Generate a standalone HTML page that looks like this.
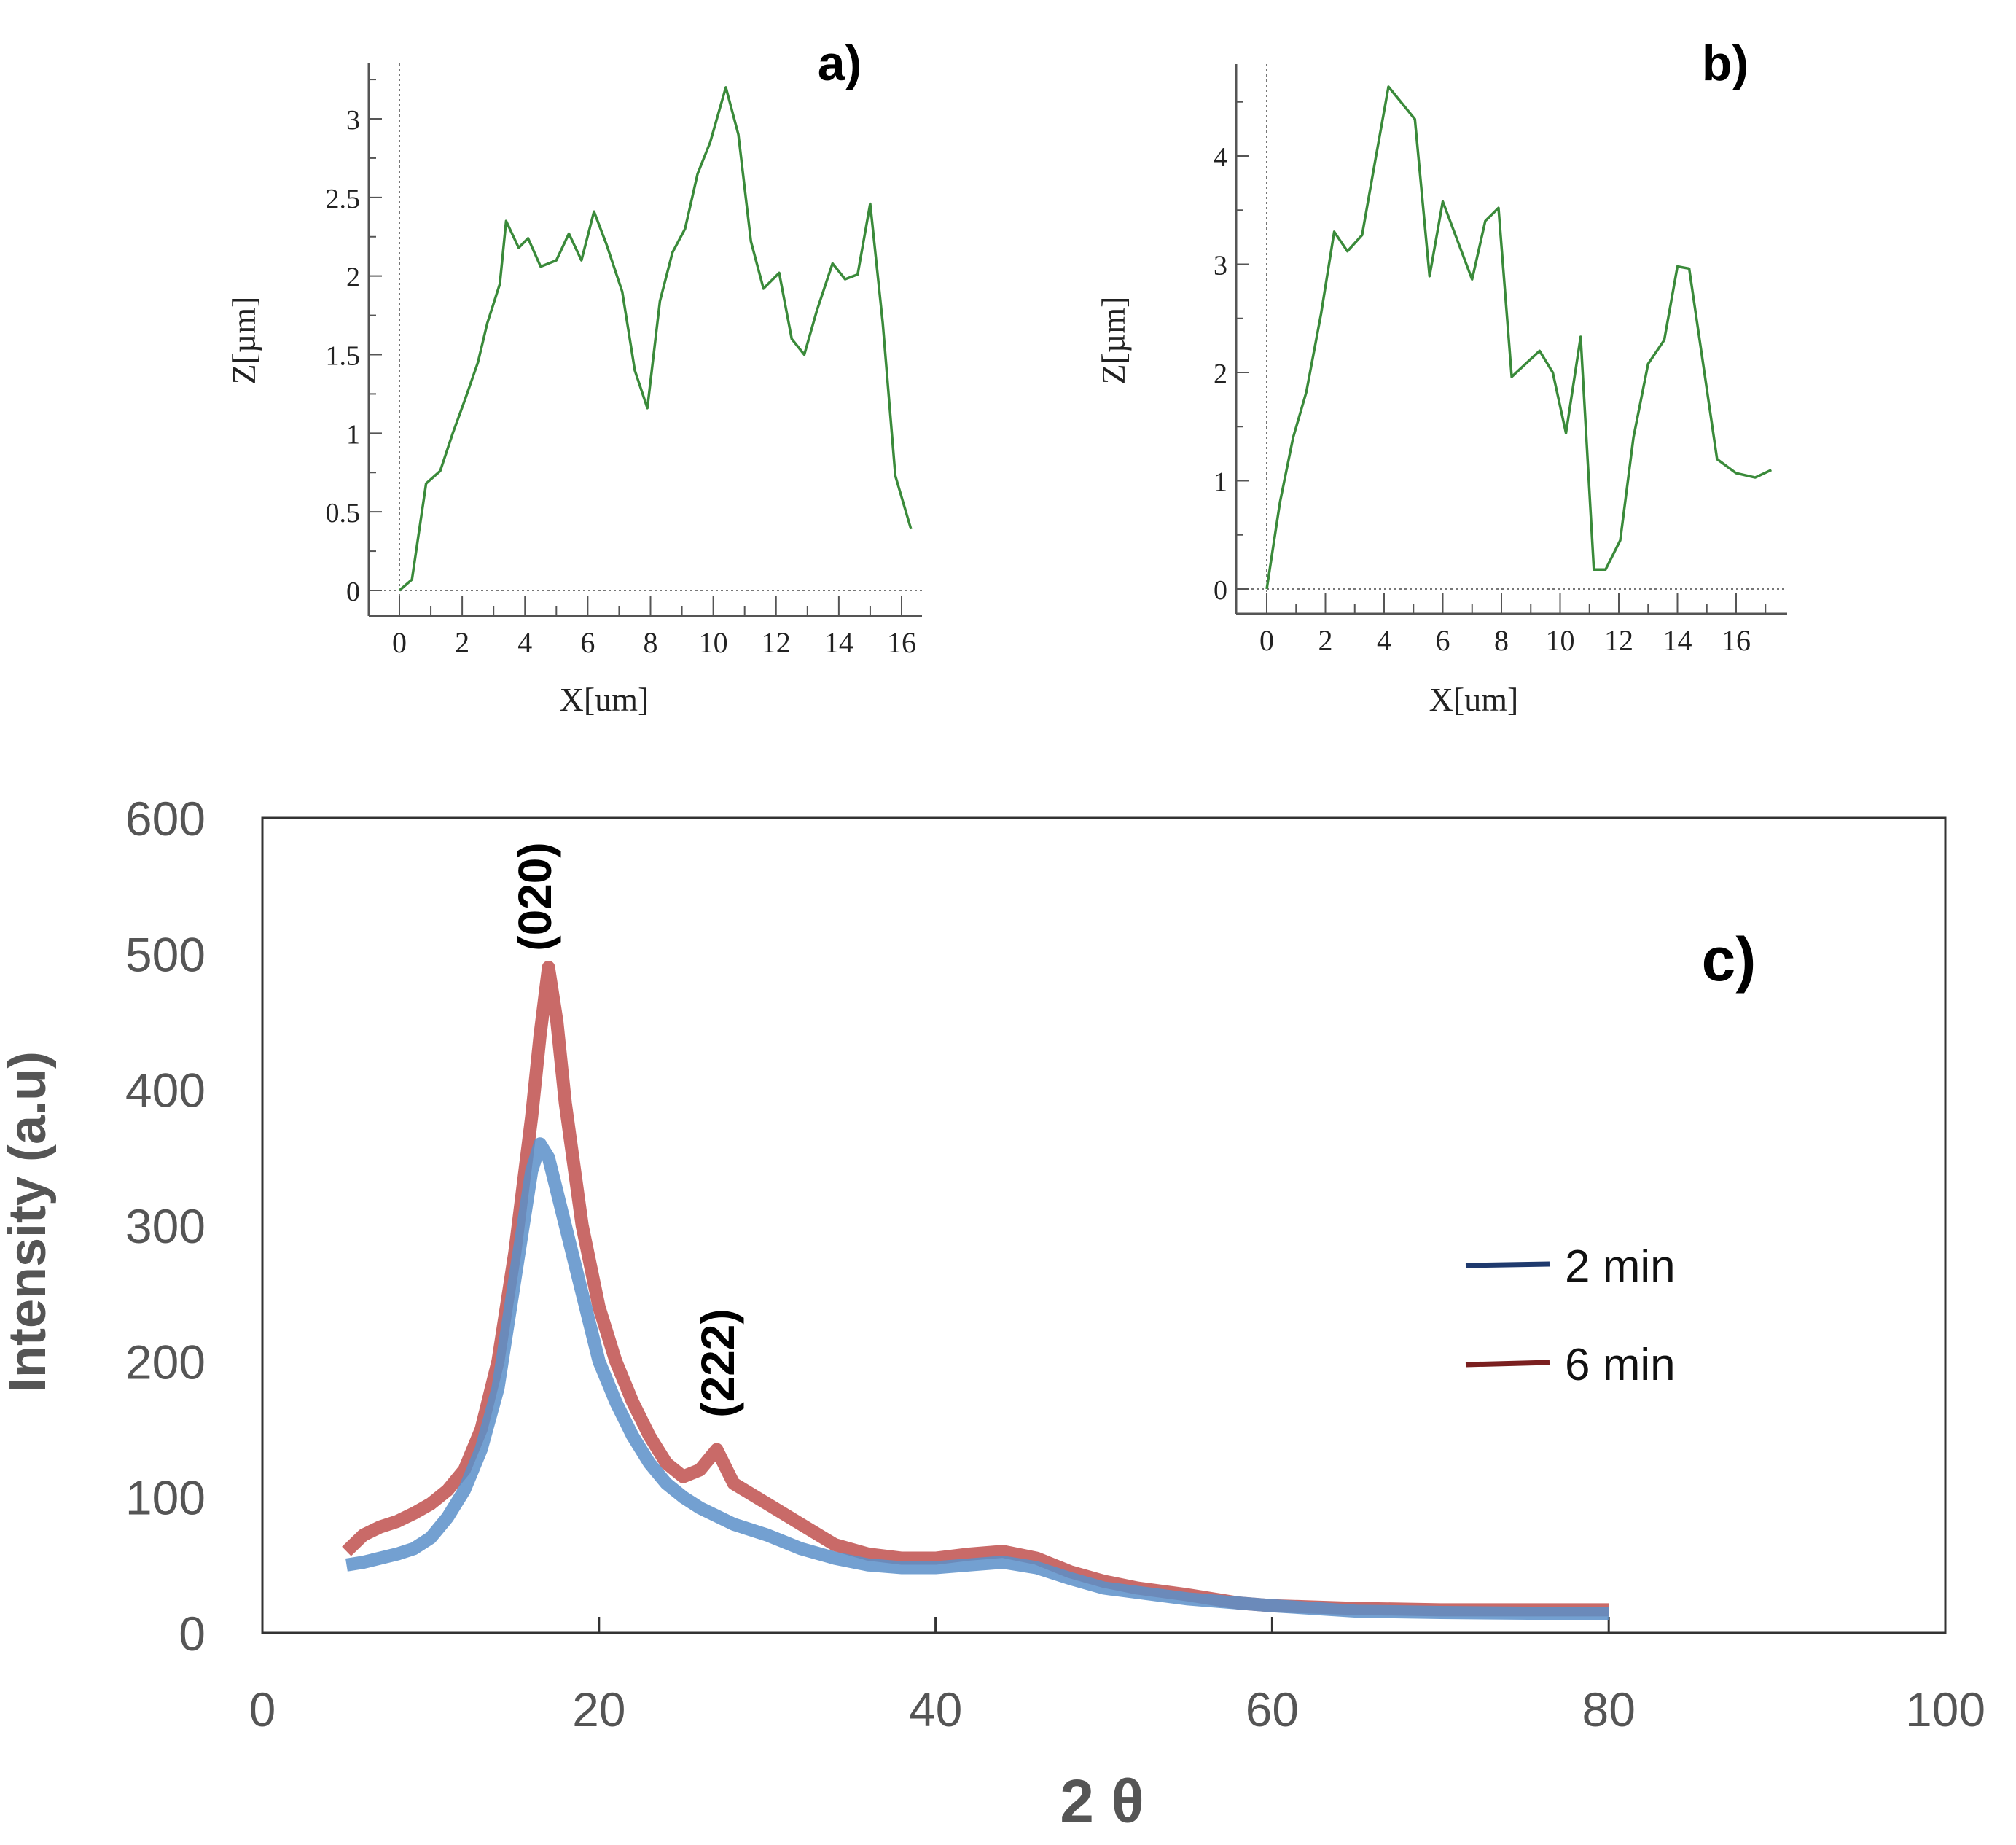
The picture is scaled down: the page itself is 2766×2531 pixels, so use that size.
<!DOCTYPE html>
<html><head><meta charset="utf-8"><style>
html,body{margin:0;padding:0;background:#fff;}
svg{display:block;}
</style></head><body>
<svg id="fig" width="2766" height="2531" viewBox="0 0 2766 2531" xmlns="http://www.w3.org/2000/svg">
<g id="pa"></g>
<g id="pb"></g>
<g id="pc"></g>
</svg>
<script>
// Panel a data
const aX=[0,0.4,0.85,1.3,1.7,2.1,2.5,2.8,3.2,3.4,3.8,4.1,4.5,5.0,5.4,5.8,6.2,6.6,7.1,7.5,7.9,8.3,8.7,9.1,9.5,9.9,10.4,10.8,11.2,11.6,12.1,12.5,12.9,13.3,13.8,14.2,14.6,15.0,15.4,15.8,16.3];
const aZ=[0,0.07,0.68,0.76,1.0,1.22,1.45,1.7,1.95,2.35,2.18,2.24,2.06,2.1,2.27,2.1,2.41,2.2,1.9,1.4,1.16,1.84,2.15,2.3,2.65,2.85,3.2,2.9,2.22,1.92,2.02,1.6,1.5,1.78,2.08,1.98,2.01,2.46,1.7,0.73,0.39];
const aYTicks=["0","0.5","1","1.5","2","2.5","3"];
const aXTicks=["0","2","4","6","8","10","12","14","16"];
// Panel b data
const bX=[0,0.45,0.9,1.35,1.85,2.3,2.75,3.25,3.7,4.15,5.05,5.55,6.0,7.0,7.45,7.9,8.35,9.3,9.75,10.2,10.7,11.15,11.55,12.05,12.5,13.0,13.55,14.0,14.4,15.35,16.0,16.65,17.2];
const bZ=[0,0.8,1.4,1.82,2.54,3.3,3.12,3.27,3.96,4.64,4.34,2.89,3.58,2.86,3.4,3.52,1.96,2.2,2.0,1.44,2.33,0.18,0.18,0.45,1.4,2.08,2.3,2.98,2.96,1.2,1.07,1.03,1.1];
const bYTicks=["0","1","2","3","4"];
const bXTicks=["0","2","4","6","8","10","12","14","16"];
// Panel c data
const c6X=[5,6,7,8,9,10,11,12,13,14,15,16,16.5,17,17.5,18,19,20,21,22,23,24,25,26,27,28,30,32,34,36,38,40,42,44,46,48,50,52,55,58,60,65,70,75,80];
const c6Y=[60,72,78,82,88,95,105,120,150,200,280,380,440,490,450,390,300,240,200,170,145,125,115,120,135,110,95,80,65,58,55,55,58,60,55,45,38,33,28,22,20,18,17,17,17];
const c2X=[5,6,7,8,9,10,11,12,13,14,15,16,16.5,17,18,19,20,21,22,23,24,25,26,28,30,32,34,36,38,40,42,44,46,48,50,55,60,65,70,80];
const c2Y=[50,52,55,58,62,70,85,105,135,180,260,340,360,350,300,250,200,170,145,125,110,100,92,80,72,62,55,50,48,48,50,52,48,40,33,25,20,16,15,14];
const cYTicks=["0","100","200","300","400","500","600"];
const cXTicks=["0","20","40","60","80","100"];

const NS="http://www.w3.org/2000/svg";
function mk(parent,tag,attrs,txt){const e=document.createElementNS(NS,tag);for(const k in attrs)e.setAttribute(k,attrs[k]);if(txt!==undefined)e.textContent=txt;parent.appendChild(e);return e;}

function profile(g,cfg,xs,zs,yt,xt){
  const sx=v=>cfg.x0+v*cfg.kx, sy=v=>cfg.y0-v*cfg.ky;
  let e=mk(g,'line',{x1:cfg.ax,y1:cfg.top,x2:cfg.ax,y2:cfg.bot,stroke:'#555','stroke-width':3});
  
  
  e=mk(g,'line',{x1:cfg.ax,y1:cfg.bot,x2:cfg.right,y2:cfg.bot,stroke:'#555','stroke-width':3});
  
  
  mk(g,'line',{x1:sx(0),y1:cfg.top,x2:sx(0),y2:cfg.bot,stroke:'#777','stroke-width':2,'stroke-dasharray':'3 4'});
  mk(g,'line',{x1:cfg.ax,y1:sy(0),x2:cfg.right,y2:sy(0),stroke:'#777','stroke-width':2,'stroke-dasharray':'3 4'});
  yt.forEach((t,i)=>{const v=+t;const y=sy(v);
    mk(g,'line',{x1:cfg.ax,y1:y,x2:cfg.ax+18,y2:y,stroke:'#555','stroke-width':2});
    const y2=sy(v+cfg.ystep/2); if(y2>cfg.top) mk(g,'line',{x1:cfg.ax,y1:y2,x2:cfg.ax+10,y2:y2,stroke:'#555','stroke-width':2});
    const tt=mk(g,'text',{x:cfg.ax-12,y:y+14,'text-anchor':'end','font-family':'Liberation Serif, serif','font-size':38,fill:'#222'},t);
    
    
  });
  xt.forEach(t=>{const v=+t;const x=sx(v);
    mk(g,'line',{x1:x,y1:cfg.bot,x2:x,y2:cfg.bot-28,stroke:'#555','stroke-width':2});
    const x2=sx(v+1); if(x2<cfg.right) mk(g,'line',{x1:x2,y1:cfg.bot,x2:x2,y2:cfg.bot-14,stroke:'#555','stroke-width':2});
    const tt=mk(g,'text',{x:x,y:cfg.bot+50,'text-anchor':'middle','font-family':'Liberation Serif, serif','font-size':40,fill:'#222'},t);
    
    
  });
  const pts=xs.map((x,i)=>sx(x)+','+sy(zs[i])).join(' ');
  e=mk(g,'polyline',{points:pts,fill:'none',stroke:'#3a8a3a','stroke-width':3.5,'stroke-linejoin':'round'});
  
  
  e=mk(g,'text',{x:cfg.zl,y:467,'text-anchor':'middle','font-family':'Liberation Serif, serif','font-size':46,fill:'#222',transform:`rotate(-90 ${cfg.zl} 467)`},'Z[µm]');
  
  
  e=mk(g,'text',{x:cfg.xl,y:975,'text-anchor':'middle','font-family':'Liberation Serif, serif','font-size':46,fill:'#222'},'X[um]');
  
  
  e=mk(g,'text',{x:cfg.lx,y:110,'text-anchor':'middle','font-family':'Liberation Sans, sans-serif','font-weight':'bold','font-size':68,fill:'#000'},cfg.label);
  
  
}
profile(document.getElementById('pa'),{ax:506,top:87,bot:845,right:1265,x0:548,kx:(1237-548)/16,y0:810,ky:(810-163)/3,ystep:0.5,zl:350,xl:829,lx:1152,label:'a)'},aX,aZ,aYTicks,aXTicks);
profile(document.getElementById('pb'),{ax:1696,top:88,bot:842,right:2452,x0:1738,kx:(2382-1738)/16,y0:808,ky:(808-214)/4,ystep:1,zl:1543,xl:2022,lx:2367,label:'b)'},bX,bZ,bYTicks,bXTicks);

// Panel c
(function(){
  const g=document.getElementById('pc');
  const L=360,R=2669,T=1122,B=2240;
  const sx=v=>L+v*(R-L)/100, sy=v=>B-v*(B-T)/600;
  let e=mk(g,'rect',{x:L,y:T,width:R-L,height:B-T,fill:'none',stroke:'#333','stroke-width':3});
  
  
  cYTicks.forEach(t=>{const y=sy(+t);
    const tt=mk(g,'text',{x:282,y:y+24,'text-anchor':'end','font-family':'Liberation Sans Narrow, Liberation Sans, sans-serif','font-size':66,fill:'#555'},t);
    
    
  });
  cXTicks.forEach(t=>{const x=sx(+t);
    if(+t>0&&+t<100) mk(g,'line',{x1:x,y1:B,x2:x,y2:B-22,stroke:'#333','stroke-width':3});
    const tt=mk(g,'text',{x:x,y:2368,'text-anchor':'middle','font-family':'Liberation Sans Narrow, Liberation Sans, sans-serif','font-size':66,fill:'#555'},t);
    
    
  });
  function series(xs,ys,col,name){
    const pts=xs.map((x,i)=>sx(x)+','+sy(ys[i])).join(' ');
    const p=mk(g,'polyline',{points:pts,fill:'none',stroke:col,'stroke-width':18,'stroke-linejoin':'round','stroke-opacity':0.85});
    
    
  }
  series(c6X,c6Y,'#c0504d','series-6-min');
  series(c2X,c2Y,'#5b8fc9','series-2-min');
  e=mk(g,'text',{x:62,y:1676,'text-anchor':'middle','font-family':'Liberation Sans, sans-serif','font-weight':'bold','font-size':72,fill:'#555',transform:'rotate(-90 62 1676)'},'Intensity (a.u)');
  
  
  e=mk(g,'text',{x:1512,y:2500,'text-anchor':'middle','font-family':'Liberation Sans, DejaVu Sans, sans-serif','font-weight':'bold','font-size':84,fill:'#555'},'2 θ');
  
  
  e=mk(g,'text',{x:2372,y:1345,'text-anchor':'middle','font-family':'Liberation Sans, sans-serif','font-weight':'bold','font-size':84,fill:'#000'},'c)');
  
  
  e=mk(g,'text',{x:732,y:1254,'text-anchor':'middle','font-family':'Liberation Sans, sans-serif','font-weight':'bold','font-size':64,fill:'#000',transform:'rotate(-90 732 1230)'},'(020)');
  
  
  e=mk(g,'text',{x:983,y:1894,'text-anchor':'middle','font-family':'Liberation Sans, sans-serif','font-weight':'bold','font-size':64,fill:'#000',transform:'rotate(-90 983 1870)'},'(222)');
  
  
  e=mk(g,'line',{x1:2011,y1:1736,x2:2126,y2:1734,stroke:'#1f3a6e','stroke-width':7});
  
  
  e=mk(g,'text',{x:2147,y:1758,'font-family':'Liberation Sans, sans-serif','font-size':62,fill:'#111'},'2 min');
  
  
  e=mk(g,'line',{x1:2011,y1:1872,x2:2126,y2:1869,stroke:'#7a1f1f','stroke-width':7});
  
  
  e=mk(g,'text',{x:2147,y:1893,'font-family':'Liberation Sans, sans-serif','font-size':62,fill:'#111'},'6 min');
  
  
})();
</script>
</body></html>
